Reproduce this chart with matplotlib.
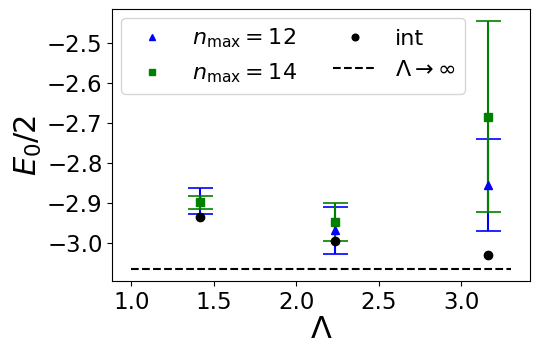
import matplotlib.pyplot as plt
import numpy as np

# Lambda values
lam = np.sqrt([2, 5, 10])

# n_max = 12
e12 = [-2.895, -2.9675, -2.855]
err12 = [0.032, 0.058, 0.115]

# n_max = 14
e14 = [-2.897, -2.947, -2.684]
err14 = [0.016, 0.047, 0.237]

# int
e_int = [-2.934, -2.994, -3.0275]

# Lambda -> infinity
e_inf = -3.0625
lam_range = [1.0, 3.3]

fig = plt.figure(figsize=(5.4, 3.57), dpi=100)
ax = fig.add_axes([0.208, 0.213, 0.773, 0.762])

ax.errorbar(lam, e12, yerr=err12, fmt='none', ecolor='blue', capsize=9, elinewidth=1.5, capthick=1.2)
ax.errorbar(lam, e14, yerr=err14, fmt='none', ecolor='green', capsize=9, elinewidth=1.5, capthick=1.2)
ax.plot(lam, e12, '^', color='blue', markersize=6, label=r'$n_{\rm max}=12$')
ax.plot(lam, e14, 's', color='green', markersize=6, label=r'$n_{\rm max}=14$')
ax.plot(lam, e_int, 'o', color='black', markersize=6, label='int')
ax.plot(lam_range, [e_inf, e_inf], '--', color='black', linewidth=1.5, label=r'$\Lambda\to\infty$')

ax.set_xlabel(r'$\Lambda$', fontsize=22, labelpad=1)
ax.set_ylabel(r'$E_0/2$', fontsize=22, labelpad=2)
ax.tick_params(labelsize=16.5)
ax.set_yticks([-3.0, -2.9, -2.8, -2.7, -2.6, -2.5])
ax.legend(ncol=2, loc='upper left', fontsize=16, numpoints=1, markerscale=0.8,
          columnspacing=1.6, borderaxespad=0.4)

plt.savefig('out.png', dpi=100)
